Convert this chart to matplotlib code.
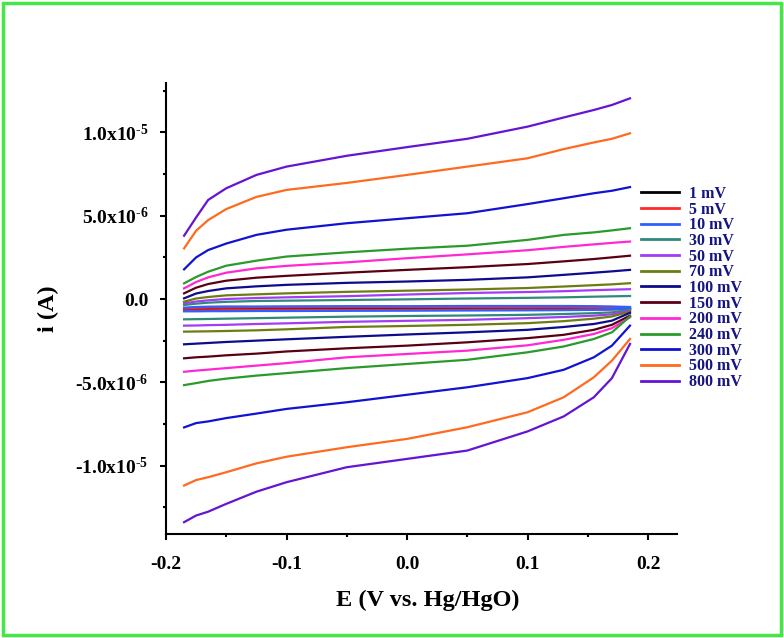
import matplotlib
matplotlib.use("Agg")
import matplotlib.pyplot as plt
import numpy as np
from matplotlib.patches import Rectangle
from matplotlib.ticker import FixedLocator, FuncFormatter

plt.rcParams['font.family'] = ['Liberation Serif', 'DejaVu Serif']
plt.rcParams['font.weight'] = 'bold'
plt.rcParams['mathtext.fontset'] = 'custom'
plt.rcParams['mathtext.rm'] = 'Liberation Serif:bold'
plt.rcParams['mathtext.bf'] = 'Liberation Serif:bold'
plt.rcParams['mathtext.it'] = 'Liberation Serif:bold'

# Potential grid (V vs Hg/HgO)
E = [-0.185, -0.175, -0.165, -0.15, -0.125, -0.1, -0.05, 0.0, 0.05, 0.1, 0.13, 0.155, 0.17, 0.185]

labels = ["1 mV", "5 mV", "10 mV", "30 mV", "50 mV", "70 mV", "100 mV",
          "150 mV", "200 mV", "240 mV", "300 mV", "500 mV", "800 mV"]
colors = ["#000000", "#ff2a2a", "#2f5fff", "#2e8b78", "#a33cf5", "#6e7d12",
          "#0c0c8c", "#5a0014", "#ff28d2", "#2a9a2a", "#1212d2", "#ff6a1e", "#6414d2"]

# currents in units of 1e-6 A : anodic (upper) and cathodic (lower) branches
up_1 = [-0.58, -0.57, -0.57, -0.56, -0.56, -0.56, -0.55, -0.55, -0.55, -0.55, -0.55, -0.56, -0.57, -0.58]
lo_1 = [-0.64, -0.64, -0.64, -0.64, -0.64, -0.63, -0.63, -0.63, -0.63, -0.62, -0.62, -0.61, -0.61, -0.60]
up_5 = [-0.55, -0.53, -0.52, -0.52, -0.51, -0.51, -0.50, -0.50, -0.50, -0.50, -0.50, -0.51, -0.52, -0.55]
lo_5 = [-0.68, -0.68, -0.68, -0.67, -0.67, -0.67, -0.66, -0.66, -0.65, -0.64, -0.64, -0.63, -0.62, -0.58]
up_10 = [-0.52, -0.48, -0.46, -0.45, -0.45, -0.44, -0.43, -0.43, -0.42, -0.42, -0.42, -0.43, -0.45, -0.48]
lo_10 = [-0.74, -0.74, -0.73, -0.73, -0.72, -0.72, -0.71, -0.70, -0.69, -0.68, -0.67, -0.65, -0.62, -0.55]
up_30 = [-0.36, -0.28, -0.22, -0.17, -0.12, -0.10, -0.06, -0.02, 0.03, 0.07, 0.10, 0.14, 0.16, 0.18]
lo_30 = [-1.22, -1.21, -1.20, -1.18, -1.15, -1.12, -1.06, -1.02, -0.99, -0.95, -0.90, -0.85, -0.80, -0.65]
up_50 = [-0.26, -0.15, -0.08, 0.00, 0.06, 0.10, 0.17, 0.27, 0.36, 0.42, 0.47, 0.53, 0.56, 0.59]
lo_50 = [-1.60, -1.59, -1.57, -1.55, -1.50, -1.46, -1.37, -1.31, -1.25, -1.15, -1.08, -1.00, -0.92, -0.70]
up_70 = [-0.16, 0.03, 0.12, 0.22, 0.28, 0.34, 0.43, 0.50, 0.57, 0.66, 0.75, 0.83, 0.88, 0.95]
lo_70 = [-1.96, -1.95, -1.94, -1.92, -1.88, -1.82, -1.68, -1.62, -1.55, -1.45, -1.33, -1.18, -1.05, -0.75]
up_100 = [0.04, 0.33, 0.48, 0.64, 0.76, 0.85, 0.97, 1.05, 1.15, 1.30, 1.45, 1.58, 1.66, 1.75]
lo_100 = [-2.72, -2.68, -2.64, -2.58, -2.50, -2.42, -2.27, -2.13, -2.00, -1.85, -1.68, -1.50, -1.30, -0.83]
up_150 = [0.34, 0.68, 0.90, 1.10, 1.28, 1.39, 1.58, 1.75, 1.91, 2.10, 2.26, 2.40, 2.50, 2.60]
lo_150 = [-3.56, -3.50, -3.46, -3.38, -3.28, -3.15, -2.96, -2.80, -2.60, -2.35, -2.15, -1.85, -1.55, -1.00]
up_200 = [0.64, 1.02, 1.30, 1.58, 1.84, 1.99, 2.20, 2.45, 2.68, 2.93, 3.13, 3.28, 3.37, 3.45]
lo_200 = [-4.37, -4.30, -4.24, -4.15, -4.00, -3.85, -3.50, -3.30, -3.10, -2.78, -2.45, -2.10, -1.75, -1.10]
up_240 = [0.94, 1.32, 1.64, 2.00, 2.30, 2.55, 2.80, 3.02, 3.20, 3.55, 3.85, 4.00, 4.12, 4.25]
lo_240 = [-5.17, -5.05, -4.92, -4.78, -4.60, -4.45, -4.15, -3.90, -3.65, -3.20, -2.85, -2.40, -2.00, -1.05]
up_300 = [1.78, 2.50, 2.94, 3.33, 3.85, 4.16, 4.55, 4.85, 5.15, 5.70, 6.05, 6.35, 6.50, 6.72]
lo_300 = [-7.71, -7.45, -7.35, -7.15, -6.88, -6.60, -6.20, -5.75, -5.30, -4.75, -4.25, -3.50, -2.80, -1.60]
up_500 = [3.04, 4.10, 4.74, 5.40, 6.13, 6.55, 6.97, 7.45, 7.95, 8.45, 9.00, 9.40, 9.62, 9.95]
lo_500 = [-11.20, -10.87, -10.70, -10.40, -9.87, -9.47, -8.90, -8.40, -7.70, -6.80, -5.90, -4.70, -3.70, -2.40]
up_800 = [3.80, 4.90, 5.95, 6.65, 7.45, 7.95, 8.60, 9.12, 9.62, 10.35, 10.90, 11.35, 11.65, 12.05]
lo_800 = [-13.40, -13.00, -12.77, -12.30, -11.57, -11.00, -10.10, -9.60, -9.10, -7.95, -7.05, -5.90, -4.75, -2.70]

uppers = [up_1, up_5, up_10, up_30, up_50, up_70, up_100, up_150, up_200, up_240, up_300, up_500, up_800]
lowers = [lo_1, lo_5, lo_10, lo_30, lo_50, lo_70, lo_100, lo_150, lo_200, lo_240, lo_300, lo_500, lo_800]

fig = plt.figure(figsize=(7.84, 6.38), dpi=100)
ax = fig.add_axes([166/784, 1-534/638, (677-166)/784, (534-83)/638])

Ea = np.array(E)
for lab, col, up, lo in zip(labels, colors, uppers, lowers):
    ax.plot(Ea, np.array(up)*1e-6, color=col, lw=1.6, label=lab)
    ax.plot(Ea, np.array(lo)*1e-6, color=col, lw=1.6)

ax.set_xlim(-0.2, 0.224)
ax.set_ylim(-1.411e-5, 1.297e-5)

for s in ['top', 'right']:
    ax.spines[s].set_visible(False)
for s in ['left', 'bottom']:
    ax.spines[s].set_linewidth(1.5)

ax.xaxis.set_major_locator(FixedLocator([-0.2, -0.1, 0.0, 0.1, 0.2]))
ax.xaxis.set_minor_locator(FixedLocator([-0.15, -0.05, 0.05, 0.15]))
ax.yaxis.set_major_locator(FixedLocator([-1e-5, -5e-6, 0, 5e-6, 1e-5]))
ax.yaxis.set_minor_locator(FixedLocator([-1.25e-5, -7.5e-6, -2.5e-6, 2.5e-6, 7.5e-6, 1.25e-5]))

def yfmt(v, pos):
    if abs(v) < 1e-12:
        return "0.0"
    exp = int(np.floor(np.log10(abs(v))))
    mant = v / 10**exp
    return "%.1fx10$^{\\mathbf{\u2010%d}}$" % (mant, -exp)

ax.yaxis.set_major_formatter(FuncFormatter(yfmt))
ax.xaxis.set_major_formatter(FuncFormatter(lambda v, p: "%.1f" % v if abs(v) > 1e-9 else "0.0"))

ax.tick_params(which='major', direction='out', length=4.5, width=1.5, labelsize=14)
ax.tick_params(which='minor', direction='out', length=2.5, width=1.5)
ax.tick_params(axis='y', which='major', pad=8)
ax.tick_params(axis='x', which='major', pad=11)
for t in ax.get_xticklabels() + ax.get_yticklabels():
    t.set_fontweight('bold')

ax.set_xlabel("E (V vs. Hg/HgO)", fontsize=17.5, fontweight='bold')
ax.xaxis.set_label_coords((428-166)/511, (534-590)/451)
ax.set_ylabel("i (A)", fontsize=17.5, fontweight='bold', labelpad=12)

leg = ax.legend(loc='upper left', bbox_to_anchor=(641/784, 1-186/638), bbox_transform=fig.transFigure,
                frameon=False, fontsize=11.5, handlelength=2.4, handletextpad=0.6,
                labelspacing=-0.02, borderaxespad=0, borderpad=0)
for t in leg.get_texts():
    t.set_color('#151580')
    t.set_fontweight('bold')
for l in leg.get_lines():
    l.set_linewidth(2.0)

fig.patches.append(Rectangle((3/784, 3/638), 778/784, 632/638, transform=fig.transFigure,
                             fill=False, edgecolor='#44e844', linewidth=2.5))

fig.savefig("out.png", dpi=100)
